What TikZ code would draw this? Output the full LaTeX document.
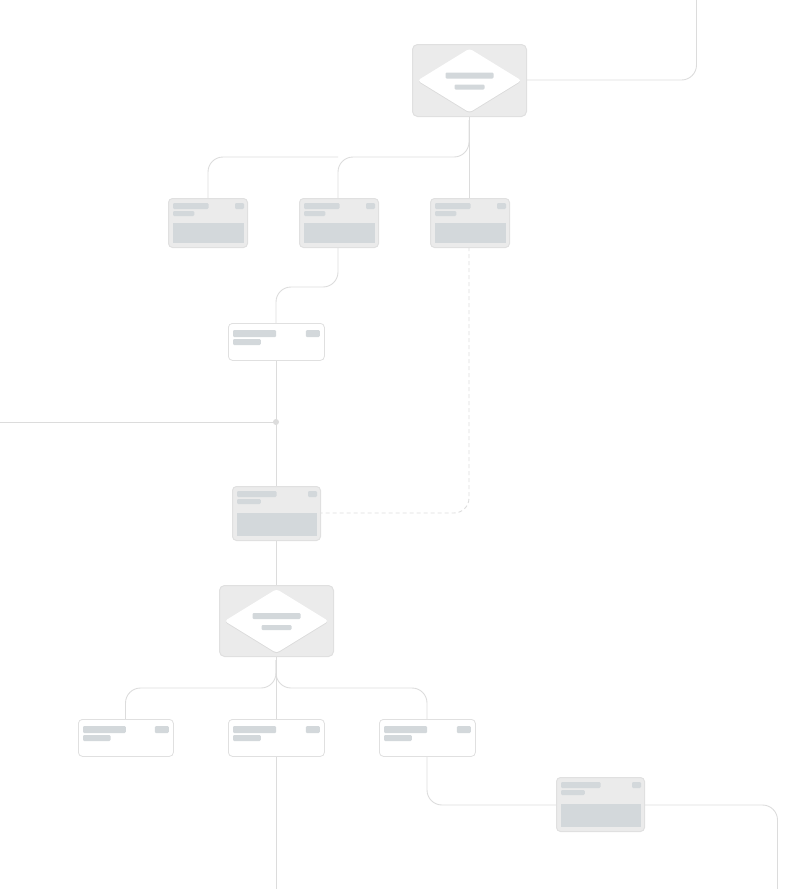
\documentclass[tikz,border=0pt]{standalone}
\usetikzlibrary{shadows,shapes.geometric}
\definecolor{linec}{HTML}{DCDCDC}
\definecolor{cardfill}{HTML}{EBEBEB}
\definecolor{cardedge}{HTML}{E0E0E0}
\definecolor{barc}{HTML}{D3D8DB}
\begin{document}
\begin{tikzpicture}[x=1pt,y=-1pt,
  conn/.style={draw=linec,line width=0.9pt,rounded corners=15pt},
  dconn/.style={conn,dash pattern=on 4pt off 3pt},
  graycard/.style={draw=cardedge,fill=cardfill,line width=1pt,rounded corners=4pt,inner sep=0pt,anchor=north west},
  whitecard/.style={draw=cardedge,fill=white,line width=0.8pt,rounded corners=4pt,inner sep=0pt,anchor=north west},
  decbox/.style={draw=cardedge,fill=cardfill,line width=1pt,rounded corners=5pt,inner sep=0pt,anchor=north west},
  dotc/.style={circle,fill=linec,inner sep=0pt,minimum size=6pt}]
\useasboundingbox (0,0) rectangle (800,889);

% ---------- macros for inner content ----------
\newcommand{\graybars}[3]{% name, w, h
  \fill[barc,rounded corners=1.2pt] ([xshift=5pt,yshift=-5pt]#1.north west) rectangle ++(0.45*#2,6);
  \fill[barc,rounded corners=1.2pt] ([xshift=5pt,yshift=-13pt]#1.north west) rectangle ++(0.27*#2,5);
  \fill[barc,rounded corners=1.2pt] ([xshift=-13pt,yshift=-5pt]#1.north east) rectangle ++(9,6);
  \fill[barc] ([xshift=5pt,yshift=-0.5*#3 pt]#1.north west) rectangle ([xshift=-4pt,yshift=5pt]#1.south east);
}
\newcommand{\whitebars}[2]{% name, w
  \fill[barc,rounded corners=1.2pt] ([xshift=5pt,yshift=-7pt]#1.north west) rectangle ++(0.45*#2,7);
  \fill[barc,rounded corners=1.2pt] ([xshift=5pt,yshift=-16pt]#1.north west) rectangle ++(0.29*#2,6);
  \fill[barc,rounded corners=1.2pt] ([xshift=-19pt,yshift=-7pt]#1.north east) rectangle ++(14,7);
}
\newcommand{\decinner}[1]{% name
  \node[diamond,fill=white,inner sep=0pt,minimum width=104pt,minimum height=64pt,aspect=1.6,
        rounded corners=3pt,drop shadow={shadow xshift=0pt,shadow yshift=-1pt,opacity=0.15}] (#1d) at (#1.center) {};
  \fill[barc,rounded corners=1.2pt] ([xshift=-24pt,yshift=8pt]#1.center) rectangle ++(48,6);
  \fill[barc,rounded corners=1.2pt] ([xshift=-15pt,yshift=-4pt]#1.center) rectangle ++(30,5);
}

% ---------- coordinates for free ends ----------
\coordinate (topend) at (696.5,0);
\coordinate (leftend) at (0,422);
\coordinate (bottomend) at (276,889);
\coordinate (brend) at (777.5,889);

% ---------- connectors (drawn first) ----------
\draw[conn] (topend) |- (526,80);
\draw[conn] (469,116) -- (469,198);
\draw[conn] (469,120) |- (338,157) -- (338,198);
\draw[conn] (338,157) -| (208,198);
\draw[conn] (338,247) |- (276,287) -- (276,323);
\draw[conn] (276,360) -- (276,486);
\draw[conn] (leftend) -- (276,422);
\draw[dconn] (469,247) |- (320,513);
\draw[conn] (276,540) -- (276,585);
\draw[conn] (276,656) -- (276,719);
\draw[conn] (276,756) -- (bottomend);
\draw[conn] (276,660) |- (125.5,688) -- (125.5,719);
\draw[conn] (276,660) |- (427,688) -- (427,719);
\draw[conn] (427,756) |- (556,805);
\draw[conn] (644,805) -| (brend);

% ---------- top decision ----------
\node[decbox,minimum width=114pt,minimum height=72pt] (dec1) at (412,44) {};
\decinner{dec1}

% ---------- gray cards row ----------
\node[graycard,minimum width=79pt,minimum height=49pt] (c1) at (168,198) {};
\graybars{c1}{79}{49}
\node[graycard,minimum width=79pt,minimum height=49pt] (c2) at (299,198) {};
\graybars{c2}{79}{49}
\node[graycard,minimum width=79pt,minimum height=49pt] (c3) at (430,198) {};
\graybars{c3}{79}{49}

% ---------- white card ----------
\node[whitecard,minimum width=96pt,minimum height=37pt] (w1) at (228,323) {};
\whitebars{w1}{96}

% junction dot
\node[dotc] (dot) at (276,422) {};

% ---------- middle gray card ----------
\node[graycard,minimum width=88pt,minimum height=54pt] (c4) at (232,486) {};
\graybars{c4}{88}{54}

% ---------- bottom decision ----------
\node[decbox,minimum width=114pt,minimum height=71pt] (dec2) at (219,585) {};
\decinner{dec2}

% ---------- bottom white cards ----------
\node[whitecard,minimum width=95pt,minimum height=37pt] (w2) at (78,719) {};
\whitebars{w2}{95}
\node[whitecard,minimum width=96pt,minimum height=37pt] (w3) at (228,719) {};
\whitebars{w3}{96}
\node[whitecard,minimum width=96pt,minimum height=37pt] (w4) at (379,719) {};
\whitebars{w4}{96}

% ---------- bottom right gray card ----------
\node[graycard,minimum width=88pt,minimum height=54pt] (c5) at (556,777) {};
\graybars{c5}{88}{54}
\end{tikzpicture}
\end{document}
